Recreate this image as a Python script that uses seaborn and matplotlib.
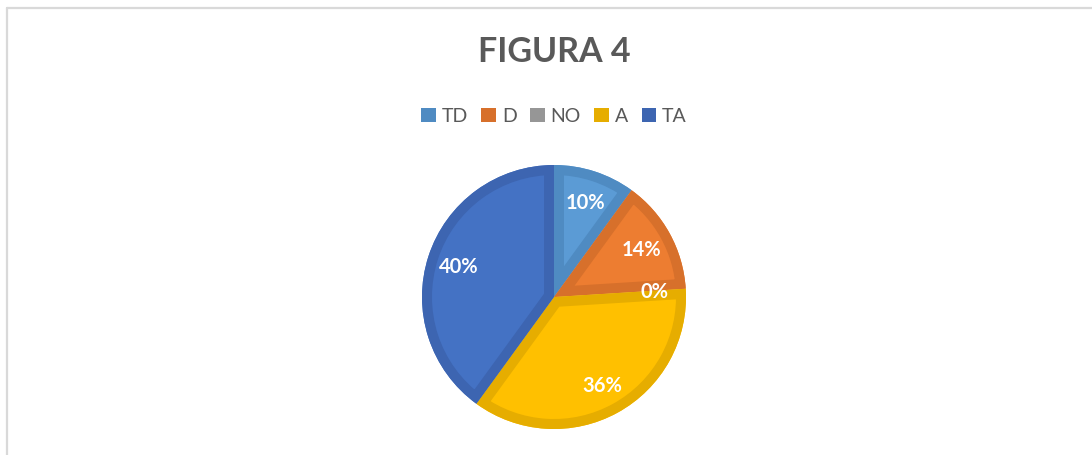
import matplotlib
matplotlib.use("Agg")
import matplotlib.pyplot as plt
from matplotlib.patches import Patch, Wedge
from matplotlib.lines import Line2D
import seaborn as sns

categories = ["TD", "D", "NO", "A", "TA"]
values = [10, 14, 0, 36, 40]
fill_colors = ["#5B9BD5", "#ED7D31", "#A5A5A5", "#FFC000", "#4472C4"]
edge_colors = ["#4F8BC2", "#D7702B", "#969696", "#E6AD00", "#3D65B1"]
title = "FIGURA 4"

sns.set_theme(style="white")
plt.rcParams["font.family"] = ["Lato", "DejaVu Sans"]

W, H = 1092, 456
fig = plt.figure(figsize=(W / 100, H / 100), dpi=100)
fig.patch.set_facecolor("white")

# chart-area border (light gray, running off right/bottom)
fig.add_artist(Line2D([7 / W, 7 / W], [0, 1 - 9 / H], transform=fig.transFigure,
                      color="#D9D9D9", lw=1.6))
fig.add_artist(Line2D([7 / W, 1], [1 - 9 / H, 1 - 9 / H], transform=fig.transFigure,
                      color="#D9D9D9", lw=1.6))

cx, cy, r = 554, 298, 132
ax = fig.add_axes([(cx - r) / W, (H - cy - r) / H, 2 * r / W, 2 * r / H])
palette = sns.color_palette(fill_colors)
wedges, texts, autotexts = ax.pie(
    values, colors=palette, startangle=90, counterclock=False,
    autopct="%1.0f%%", pctdistance=0.76,
    wedgeprops=dict(linewidth=0),
    textprops=dict(color="white", fontweight="bold", fontsize=14.5),
)
# inner border of each slice: stroke the same wedge outline, clipped to the slice
for w, ec, v in zip(wedges, edge_colors, values):
    if v <= 0:
        continue
    border = Wedge(w.center, w.r, w.theta1, w.theta2, facecolor="none",
                   edgecolor=ec, linewidth=14.4, joinstyle="miter", zorder=w.get_zorder() + 0.1)
    ax.add_patch(border)
    border.set_clip_path(w)
for t in autotexts:
    t.set_zorder(5)
ax.set_xlim(-1, 1)
ax.set_ylim(-1, 1)
ax.set_aspect("equal")
ax.axis("off")

fig.text(cx / W, 1 - 52 / H, title, ha="center", va="center",
         fontsize=24.5, fontweight="bold", color="#595959")

handles = [Patch(facecolor=c, edgecolor="none") for c in edge_colors]
fig.legend(handles, categories, loc="center", bbox_to_anchor=(cx / W, 1 - 117 / H),
           ncol=5, frameon=False, fontsize=14, handlelength=0.75, handleheight=0.75,
           handletextpad=0.3, columnspacing=0.7, labelcolor="#595959")

fig.savefig("out.png", dpi=100, facecolor="white")
